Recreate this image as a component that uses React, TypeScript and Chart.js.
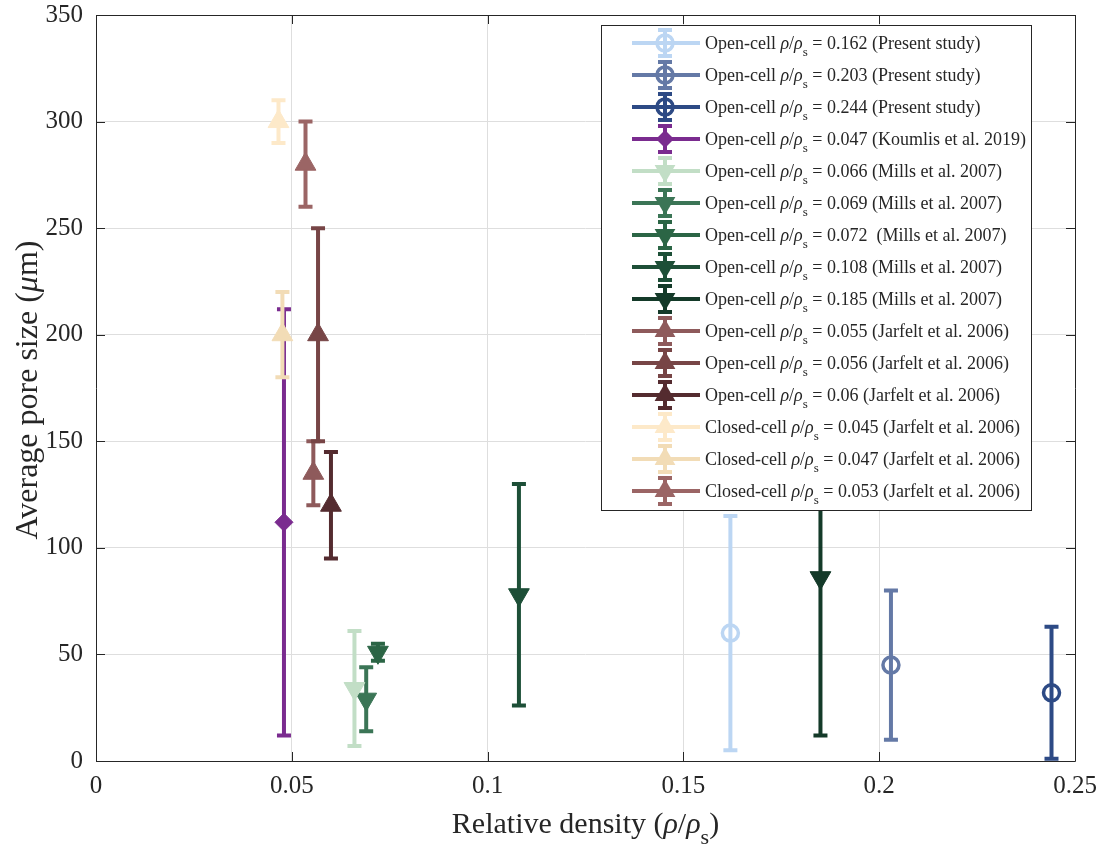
import React, { useEffect, useRef } from "react";
import { Chart, registerables } from "chart.js";

Chart.register(...registerables);

// ---------- data ----------
const cellTypes = [
  "Open-cell", "Open-cell", "Open-cell", "Open-cell", "Open-cell", "Open-cell", "Open-cell", "Open-cell",
  "Open-cell", "Open-cell", "Open-cell", "Open-cell", "Closed-cell", "Closed-cell", "Closed-cell",
];
const densityLabels = [
  "0.162", "0.203", "0.244", "0.047", "0.066", "0.069", "0.072 ", "0.108", "0.185",
  "0.055", "0.056", "0.06", "0.045", "0.047", "0.053",
];
const sources = [
  "(Present study)", "(Present study)", "(Present study)", "(Koumlis et al. 2019)",
  "(Mills et al. 2007)", "(Mills et al. 2007)", "(Mills et al. 2007)", "(Mills et al. 2007)", "(Mills et al. 2007)",
  "(Jarfelt et al. 2006)", "(Jarfelt et al. 2006)", "(Jarfelt et al. 2006)",
  "(Jarfelt et al. 2006)", "(Jarfelt et al. 2006)", "(Jarfelt et al. 2006)",
];
const xValues = [0.162, 0.203, 0.244, 0.048, 0.066, 0.069, 0.072, 0.108, 0.185, 0.0555, 0.0567, 0.060, 0.0466, 0.0476, 0.0535];
const yValues = [60, 45, 32, 112, 34, 29, 51, 78, 86, 135, 200, 120, 300, 200, 280];
const yLow = [5, 10, 1, 12, 7, 14, 47, 26, 12, 120, 150, 95, 290, 180, 260];
const yHigh = [115, 80, 63, 212, 61, 44, 55, 130, 160, 150, 250, 145, 310, 220, 300];
const markers = [
  "circle", "circle", "circle", "diamond", "down", "down", "down", "down", "down",
  "up", "up", "up", "up", "up", "up",
];
const colors = [
  "#bcd6f3", "#6479a6", "#2d4a85", "#7a2b8f", "#c2dec6", "#3b7556", "#2b6545", "#1d4f37", "#143a29",
  "#8e5a5b", "#774546", "#542b2f", "#fde9c9", "#f2dcb6", "#9b6565",
];
const xTicks = [0, 0.05, 0.1, 0.15, 0.2, 0.25];
const yTicks = [0, 50, 100, 150, 200, 250, 300, 350];

const FONT = "'Liberation Serif', 'Times New Roman', serif";
const TEXT = "#262626";

type Seg = { t: string; it?: boolean; sub?: boolean };

function drawMixed(ctx: CanvasRenderingContext2D, segs: Seg[], x: number, y: number, size: number, align: "left" | "center") {
  const fontFor = (s: Seg) => `${s.it ? "italic " : ""}${s.sub ? Math.round(size * 0.72) : size}px ${FONT}`;
  let total = 0;
  for (const s of segs) {
    ctx.font = fontFor(s);
    total += ctx.measureText(s.t).width;
  }
  let cx = align === "center" ? x - total / 2 : x;
  ctx.textAlign = "left";
  ctx.textBaseline = "alphabetic";
  for (const s of segs) {
    ctx.font = fontFor(s);
    ctx.fillText(s.t, cx, y + (s.sub ? size * 0.38 : 0));
    cx += ctx.measureText(s.t).width;
  }
}

function drawMarker(ctx: CanvasRenderingContext2D, kind: string, x: number, y: number, color: string) {
  ctx.save();
  ctx.strokeStyle = color;
  ctx.fillStyle = color;
  ctx.beginPath();
  if (kind === "circle") {
    ctx.lineWidth = 3.5;
    ctx.arc(x, y, 8, 0, Math.PI * 2);
    ctx.stroke();
  } else if (kind === "diamond") {
    const r = 9;
    ctx.moveTo(x, y - r);
    ctx.lineTo(x + r, y);
    ctx.lineTo(x, y + r);
    ctx.lineTo(x - r, y);
    ctx.closePath();
    ctx.fill();
  } else {
    const r = 12;
    const s = kind === "up" ? 1 : -1;
    ctx.moveTo(x, y - s * r);
    ctx.lineTo(x + r * 0.866, y + s * r * 0.5);
    ctx.lineTo(x - r * 0.866, y + s * r * 0.5);
    ctx.closePath();
    ctx.fill();
  }
  ctx.restore();
}

function drawErrorBar(ctx: CanvasRenderingContext2D, x: number, yTop: number, yBot: number, color: string) {
  ctx.save();
  ctx.strokeStyle = color;
  ctx.lineWidth = 4;
  ctx.lineCap = "butt";
  ctx.beginPath();
  ctx.moveTo(x, yTop);
  ctx.lineTo(x, yBot);
  ctx.moveTo(x - 7, yTop);
  ctx.lineTo(x + 7, yTop);
  ctx.moveTo(x - 7, yBot);
  ctx.lineTo(x + 7, yBot);
  ctx.stroke();
  ctx.restore();
}

const errorBarPlugin = {
  id: "errorBars",
  beforeDatasetsDraw(chart: any) {
    const ctx = chart.ctx as CanvasRenderingContext2D;
    const xs = chart.scales.x;
    const ys = chart.scales.y;
    const a = chart.chartArea;
    ctx.save();
    ctx.beginPath();
    ctx.rect(a.left, a.top - 5, a.right - a.left, a.bottom - a.top + 10);
    ctx.clip();
    for (let i = 0; i < xValues.length; i++) {
      const px = xs.getPixelForValue(xValues[i]);
      drawErrorBar(ctx, px, ys.getPixelForValue(yHigh[i]), ys.getPixelForValue(yLow[i]), colors[i]);
    }
    ctx.restore();
  },
  afterDatasetsDraw(chart: any) {
    const ctx = chart.ctx as CanvasRenderingContext2D;
    const a = chart.chartArea;
    const xs = chart.scales.x;
    const ys = chart.scales.y;
    ctx.save();
    ctx.strokeStyle = TEXT;
    ctx.lineWidth = 1;
    ctx.beginPath();
    ctx.rect(Math.round(a.left) + 0.5, Math.round(a.top) + 0.5, Math.round(a.right - a.left), Math.round(a.bottom - a.top));
    const tl = 9;
    for (const v of xTicks) {
      const p = Math.round(xs.getPixelForValue(v)) + 0.5;
      ctx.moveTo(p, a.bottom);
      ctx.lineTo(p, a.bottom - tl);
      ctx.moveTo(p, a.top);
      ctx.lineTo(p, a.top + tl);
    }
    for (const v of yTicks) {
      const p = Math.round(ys.getPixelForValue(v)) + 0.5;
      ctx.moveTo(a.left, p);
      ctx.lineTo(a.left + tl, p);
      ctx.moveTo(a.right, p);
      ctx.lineTo(a.right - tl, p);
    }
    ctx.stroke();
    ctx.restore();
  },
  afterDraw(chart: any) {
    const ctx = chart.ctx as CanvasRenderingContext2D;
    const a = chart.chartArea;
    // legend
    const lx = 601.5, ly = 25.5, lw = 430, lh = 485;
    ctx.save();
    ctx.fillStyle = "#ffffff";
    ctx.fillRect(lx, ly, lw, lh);
    ctx.strokeStyle = TEXT;
    ctx.lineWidth = 1;
    ctx.strokeRect(lx, ly, lw, lh);
    for (let i = 0; i < xValues.length; i++) {
      const ry = 43 + i * 32;
      ctx.strokeStyle = colors[i];
      ctx.lineWidth = 4;
      ctx.beginPath();
      ctx.moveTo(632, ry);
      ctx.lineTo(700, ry);
      ctx.stroke();
      drawErrorBar(ctx, 665, ry - 13, ry + 13, colors[i]);
      drawMarker(ctx, markers[i], 665, ry, colors[i]);
      ctx.fillStyle = TEXT;
      drawMixed(ctx, [
        { t: cellTypes[i] + " " },
        { t: "\u03C1", it: true },
        { t: "/" },
        { t: "\u03C1", it: true },
        { t: "s", sub: true },
        { t: " = " + densityLabels[i] + " " + sources[i] },
      ], 705, ry + 6, 18, "left");
    }
    // axis titles
    ctx.fillStyle = TEXT;
    drawMixed(ctx, [
      { t: "Relative density (" },
      { t: "\u03C1", it: true },
      { t: "/" },
      { t: "\u03C1", it: true },
      { t: "s", sub: true },
      { t: ")" },
    ], (a.left + a.right) / 2, 833, 30, "center");
    ctx.save();
    ctx.translate(37, 390);
    ctx.rotate(-Math.PI / 2);
    drawMixed(ctx, [
      { t: "Average pore size (" },
      { t: "\u03BC", it: true },
      { t: "m)" },
    ], 0, 0, 32, "center");
    ctx.restore();
    ctx.restore();
  },
};

export default function App() {
  const ref = useRef<HTMLCanvasElement | null>(null);
  useEffect(() => {
    document.body.style.margin = "0";
    const canvas = ref.current!;
    const datasets = xValues.map((x, i) => {
      const m = markers[i];
      return {
        label: cellTypes[i] + " " + densityLabels[i],
        data: [{ x, y: yValues[i] }],
        pointStyle: m === "circle" ? "circle" : m === "diamond" ? "rectRot" : "triangle",
        rotation: m === "down" ? 180 : 0,
        pointRadius: m === "circle" ? 8 : m === "diamond" ? 9 : 12,
        borderWidth: m === "circle" ? 3.5 : 1,
        borderColor: colors[i],
        backgroundColor: m === "circle" ? "rgba(255,255,255,0)" : colors[i],
        showLine: false,
      };
    });
    const chart = new Chart(canvas, {
      type: "scatter",
      data: { datasets: datasets as any },
      plugins: [errorBarPlugin],
      options: {
        responsive: false,
        animation: false,
        events: [],
        layout: { padding: { top: 15, right: 30, left: 0, bottom: 0 } },
        plugins: { legend: { display: false }, tooltip: { enabled: false } },
        scales: {
          x: {
            type: "linear",
            min: 0,
            max: 0.25,
            afterFit: (s: any) => { s.height = 85; s.paddingLeft = 0; s.paddingRight = 0; },
            afterBuildTicks: (s: any) => { s.ticks = xTicks.map((v) => ({ value: v })); },
            ticks: {
              padding: 10,
              color: TEXT,
              font: { family: FONT, size: 25 },
              callback: (v: any) => String(Math.round(Number(v) * 100) / 100),
            },
            grid: { color: "#dedede", lineWidth: 1, drawTicks: false },
            border: { display: false },
          },
          y: {
            type: "linear",
            min: 0,
            max: 350,
            afterFit: (s: any) => { s.width = 96; s.paddingTop = 0; s.paddingBottom = 0; },
            afterBuildTicks: (s: any) => { s.ticks = yTicks.map((v) => ({ value: v })); },
            ticks: {
              padding: 13,
              color: TEXT,
              font: { family: FONT, size: 25 },
            },
            grid: { color: "#dedede", lineWidth: 1, drawTicks: false },
            border: { display: false },
          },
        },
      },
    });
    return () => chart.destroy();
  }, []);
  return (
    <div style={{ width: 1105, height: 846, background: "#ffffff" }}>
      <canvas ref={ref} width={1105} height={846} style={{ display: "block" }} />
    </div>
  );
}
